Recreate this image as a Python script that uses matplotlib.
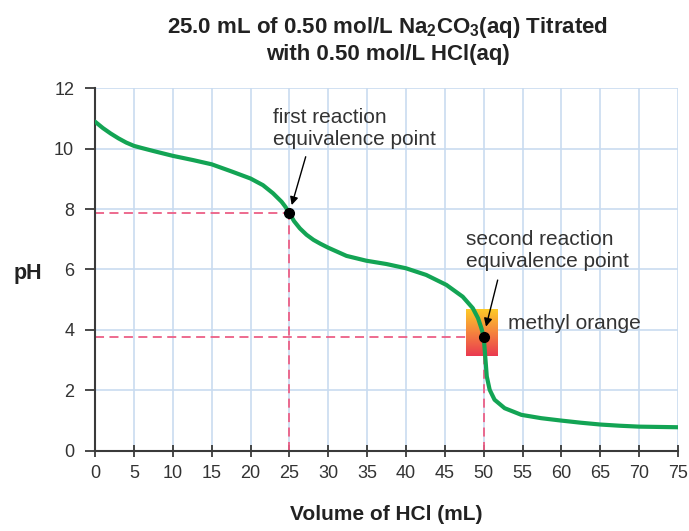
import numpy as np
import matplotlib.pyplot as plt
from matplotlib.colors import LinearSegmentedColormap

# volume of HCl (mL) and pH
volume = [0, 1, 2, 3, 4, 5, 6, 7.5, 10, 12.6, 15, 17.6, 20, 21.6, 22.9, 24, 24.5,
          25, 25.6, 26.35, 27.2, 28.1, 29, 30, 32.35, 34.9, 37.5, 40, 42.6, 45.2,
          47.3, 48.6, 49.27, 49.7, 50, 50.2, 50.4, 50.77, 51.4, 52.7, 54.85, 57.4,
          60, 62.5, 65, 67.5, 70, 72.5, 75]
ph = [10.89, 10.68, 10.5, 10.34, 10.2, 10.09, 10.02, 9.92, 9.76, 9.62, 9.48, 9.24,
      9.01, 8.79, 8.52, 8.24, 8.07, 7.86, 7.6, 7.36, 7.15, 6.98, 6.85, 6.72, 6.45,
      6.29, 6.18, 6.04, 5.82, 5.49, 5.10, 4.72, 4.39, 4.06, 3.78, 3.12, 2.46, 2.02,
      1.69, 1.41, 1.19, 1.08, 1.0, 0.93, 0.87, 0.83, 0.80, 0.79, 0.78]

equiv_x = [25, 50]
equiv_ph = [7.86, 3.78]
indicator_range = (47.7, 51.8, 3.14, 4.69)  # x0, x1, pH low, pH high

plt.rcParams['mathtext.fontset'] = 'custom'
plt.rcParams['mathtext.bf'] = 'Liberation Sans:bold'
plt.rcParams['mathtext.rm'] = 'Liberation Sans'

sans = ['Liberation Sans', 'DejaVu Sans']
text_col = '#333333'

fig = plt.figure(figsize=(6.89, 5.31), dpi=100)
ax = fig.add_axes([0.138, 0.151, 0.846, 0.683])

ax.set_xlim(0, 75)
ax.set_ylim(0, 12)
ax.set_xticks(np.arange(0, 76, 5))
ax.set_yticks(np.arange(0, 13, 2))
ax.grid(True, color='#c9dbf0', linewidth=1.2)
ax.set_axisbelow(True)

for s in ['top', 'right']:
    ax.spines[s].set_visible(False)
for s in ['left', 'bottom']:
    ax.spines[s].set_color('#3a3a3a')
    ax.spines[s].set_linewidth(1.5)
ax.tick_params(axis='x', direction='inout', length=9, width=1.3, color='#3a3a3a',
               labelsize=13, labelcolor=text_col, pad=6)
ax.tick_params(axis='y', direction='out', length=7, width=1.3, color='#3a3a3a',
               labelsize=13, labelcolor=text_col, pad=8)
for lab in ax.get_xticklabels() + ax.get_yticklabels():
    lab.set_family(sans)

# dashed guide lines to the equivalence points
for ex, ep in zip(equiv_x, equiv_ph):
    ax.plot([0, ex], [ep, ep], color='#ec5f86', lw=1.3, ls=(0, (5, 3)), zorder=2)
    ax.plot([ex, ex], [0, ep], color='#ec5f86', lw=1.3, ls=(0, (5, 3)), zorder=2)

# methyl orange colour box
cmap = LinearSegmentedColormap.from_list('mo', ['#ea3a50', '#f5833e', '#fdca28'])
grad = np.linspace(0, 1, 100).reshape(-1, 1)
ax.imshow(grad, extent=indicator_range, origin='lower', aspect='auto', cmap=cmap, zorder=3)

ax.plot(volume, ph, color='#13a454', lw=3, zorder=4, solid_capstyle='round',
        solid_joinstyle='round')
ax.plot(equiv_x, equiv_ph, 'o', color='black', markersize=7, zorder=5)

arrow = dict(arrowstyle='-|>', color='black', lw=1, shrinkA=0, shrinkB=0, mutation_scale=12)
ax.annotate('', xy=(25.3, 8.13), xytext=(27.1, 9.73), arrowprops=arrow, zorder=6)
ax.annotate('', xy=(50.3, 4.11), xytext=(51.8, 5.65), arrowprops=arrow, zorder=6)

ax.text(22.85, 10.66, 'first reaction\nequivalence point', fontsize=15, color=text_col,
        ha='left', va='center', linespacing=1.2, family=sans)
ax.text(47.7, 6.63, 'second reaction\nequivalence point', fontsize=15, color=text_col,
        ha='left', va='center', linespacing=1.2, family=sans)
ax.text(53.1, 4.2, 'methyl orange', fontsize=15, color=text_col, va='center', ha='left',
        family=sans)

fig.text(0.563, 0.925,
         '25.0 mL of 0.50 mol/L Na$_\\mathbf{2}$CO$_\\mathbf{3}$(aq) Titrated\nwith 0.50 mol/L HCl(aq)',
         ha='center', va='center', fontsize=16, fontweight='bold', color='#222222',
         family=sans, linespacing=1.25)
ax.set_xlabel('Volume of HCl (mL)', fontsize=15, fontweight='bold', color='#222222',
              family=sans, labelpad=16)
ax.set_ylabel('pH', fontsize=15.5, fontweight='bold', color='#222222', family=sans,
              rotation=0, va='center')
ax.yaxis.set_label_coords(-0.115, 0.49)

fig.savefig('out.png', dpi=100)
